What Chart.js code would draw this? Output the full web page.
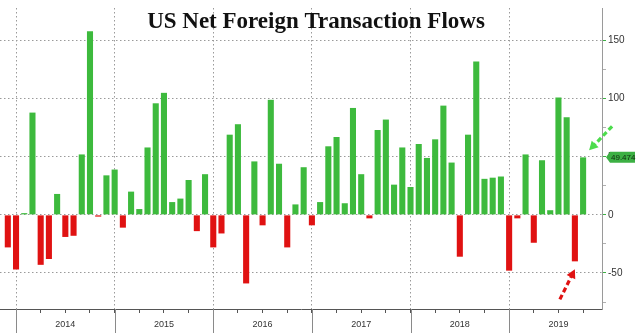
<!DOCTYPE html>
<html>
<head>
<meta charset="utf-8">
<script src="https://cdn.jsdelivr.net/npm/chart.js@4/dist/chart.umd.min.js"></script>
<style>
  html, body { margin: 0; padding: 0; background: #fff; }
  #wrap { position: relative; width: 640px; height: 333px; }
</style>
</head>
<body>
<div id="wrap"><canvas id="c" width="640" height="333"></canvas></div>
<script>
// Monthly net foreign transaction flows (USD bn)
const months = [
  '2013-12',
  '2014-01','2014-02','2014-03','2014-04','2014-05','2014-06','2014-07','2014-08','2014-09','2014-10','2014-11','2014-12',
  '2015-01','2015-02','2015-03','2015-04','2015-05','2015-06','2015-07','2015-08','2015-09','2015-10','2015-11','2015-12',
  '2016-01','2016-02','2016-03','2016-04','2016-05','2016-06','2016-07','2016-08','2016-09','2016-10','2016-11','2016-12',
  '2017-01','2017-02','2017-03','2017-04','2017-05','2017-06','2017-07','2017-08','2017-09','2017-10','2017-11','2017-12',
  '2018-01','2018-02','2018-03','2018-04','2018-05','2018-06','2018-07','2018-08','2018-09','2018-10','2018-11','2018-12',
  '2019-01','2019-02','2019-03','2019-04','2019-05','2019-06','2019-07','2019-08','2019-09','2019-10'
];
const flows = [
  -28,
  -47, 1.5, 88, -43, -38, 18, -19, -18, 52, 158, -1.5, 34,
  39, -11, 20, 5, 58, 96, 105, 11, 14, 30, -14, 35,
  -28, -16, 69, 78, -59, 46, -9, 99, 44, -28, 9, 41,
  -9, 11, 59, 67, 10, 92, 35, -3, 73, 82, 26, 58,
  24, 61, 49, 65, 94, 45, -36, 69, 132, 31, 32, 33,
  -48, -3, 52, -24, 47, 4, 101, 84, -40, 49.474
];
const yearLabels = ['2014', '2015', '2016', '2017', '2018', '2019'];
const yTickLabels = [-50, 0, 50, 100, 150];
const chartTitle = 'US Net Foreign Transaction Flows';

const GREEN = '#3dba3d';
const RED = '#e01212';
const BASE_YEAR = 2014;

function monthIndex(m) {
  const [y, mo] = m.split('-').map(Number);
  return (y - BASE_YEAR) * 12 + (mo - 1);
}

const points = months.map((m, i) => ({ x: monthIndex(m), y: flows[i] }));

function arrow(ctx, x0, y0, x1, y1, color, head) {
  const ang = Math.atan2(y1 - y0, x1 - x0);
  const hx = x1 - Math.cos(ang) * head * 0.8;
  const hy = y1 - Math.sin(ang) * head * 0.8;
  ctx.save();
  ctx.strokeStyle = color;
  ctx.fillStyle = color;
  ctx.lineWidth = 3.2;
  ctx.lineCap = 'butt';
  ctx.setLineDash([5, 3]);
  ctx.beginPath();
  ctx.moveTo(x0, y0);
  ctx.lineTo(hx, hy);
  ctx.stroke();
  ctx.setLineDash([]);
  ctx.beginPath();
  ctx.moveTo(x1, y1);
  ctx.lineTo(x1 - Math.cos(ang - 0.5) * head, y1 - Math.sin(ang - 0.5) * head);
  ctx.lineTo(x1 - Math.cos(ang + 0.5) * head, y1 - Math.sin(ang + 0.5) * head);
  ctx.closePath();
  ctx.fill();
  ctx.restore();
}

const decor = {
  id: 'decor',
  afterDraw(chart) {
    const { ctx, chartArea, scales } = chart;
    const xs = scales.x, ys = scales.y;
    ctx.save();

    // year separators below the axis and year labels
    ctx.strokeStyle = '#8a8a8a';
    ctx.lineWidth = 1;
    yearLabels.forEach((label, k) => {
      const px = Math.round(xs.getPixelForValue(k * 12)) + 0.5;
      ctx.beginPath();
      ctx.moveTo(px, chartArea.bottom);
      ctx.lineTo(px, chart.height);
      ctx.stroke();
      ctx.fillStyle = '#333';
      ctx.font = '9px "Liberation Sans", Arial, sans-serif';
      ctx.textAlign = 'center';
      ctx.textBaseline = 'middle';
      ctx.fillText(label, xs.getPixelForValue(k * 12 + 6), 325);
    });

    // title
    ctx.fillStyle = '#111';
    ctx.font = 'bold 23px "Liberation Serif", "Times New Roman", serif';
    ctx.textAlign = 'center';
    ctx.textBaseline = 'alphabetic';
    ctx.fillText(chartTitle, 316, 28);

    // latest value tag on the right axis
    const lastI = flows.length - 1;
    const lastV = flows[lastI];
    const ty = ys.getPixelForValue(lastV);
    const bx = chartArea.right + 4;
    ctx.fillStyle = '#3cb043';
    ctx.beginPath();
    ctx.moveTo(bx, ty);
    ctx.lineTo(bx + 4, ty - 5.5);
    ctx.lineTo(635, ty - 5.5);
    ctx.lineTo(635, ty + 5.5);
    ctx.lineTo(bx + 4, ty + 5.5);
    ctx.closePath();
    ctx.fill();
    ctx.fillStyle = '#102a10';
    ctx.font = '8px "Liberation Sans", Arial, sans-serif';
    ctx.textAlign = 'left';
    ctx.textBaseline = 'middle';
    ctx.fillText(lastV.toFixed(3), bx + 5, ty + 0.5);

    // arrows pointing at the two latest bars
    const gx = xs.getPixelForValue(points[lastI].x);
    const gy = ys.getPixelForValue(lastV);
    arrow(ctx, gx + 29, gy - 31, gx + 6, gy - 7, '#4cdc4c', 10);
    const rx = xs.getPixelForValue(points[lastI - 1].x);
    const ry = ys.getPixelForValue(flows[lastI - 1]);
    arrow(ctx, rx - 15, ry + 38, rx, ry + 8, RED, 10);

    ctx.restore();
  }
};

new Chart(document.getElementById('c'), {
  type: 'bar',
  data: {
    datasets: [{
      data: points,
      backgroundColor: flows.map(v => (v < 0 ? RED : GREEN)),
      borderWidth: 0,
      barPercentage: 0.74,
      categoryPercentage: 1
    }]
  },
  options: {
    responsive: false,
    animation: false,
    devicePixelRatio: 1,
    layout: { padding: 0 },
    plugins: { legend: { display: false }, title: { display: false }, tooltip: { enabled: false } },
    scales: {
      x: {
        type: 'linear',
        offset: false,
        min: -1.95,
        max: 71.3,
        afterBuildTicks: s => {
          const t = [];
          for (let v = 0; v <= 69; v += 3) t.push({ value: v });
          s.ticks = t;
        },
        afterFit: s => { s.height = 24; },
        ticks: { callback: () => '', autoSkip: false, maxRotation: 0 },
        grid: {
          offset: false,
          color: c => (c.tick && c.tick.value % 12 === 0 ? '#9a9a9a' : 'rgba(0,0,0,0)'),
          tickColor: '#555',
          tickLength: 4,
          tickBorderDash: []
        },
        border: { color: '#555', width: 1, dash: [1.5, 2.5] }
      },
      y: {
        position: 'right',
        min: -81,
        max: 178,
        afterBuildTicks: s => {
          const t = [];
          for (let v = -75; v <= 150; v += 25) t.push({ value: v });
          s.ticks = t;
        },
        afterFit: s => { s.width = 38; },
        ticks: {
          callback: v => (yTickLabels.includes(v) ? String(v) : ''),
          color: '#333',
          font: { family: '"Liberation Sans", Arial, sans-serif', size: 10 },
          padding: 2,
          autoSkip: false
        },
        grid: {
          color: c => (c.tick && yTickLabels.includes(c.tick.value) ? '#9a9a9a' : 'rgba(0,0,0,0)'),
          tickColor: c => (c.tick && yTickLabels.includes(c.tick.value) ? '#3cb043' : '#b0b0b0'),
          tickLength: 4,
          tickBorderDash: []
        },
        border: { color: '#9a9a9a', width: 1, dash: [1.5, 2.5] }
      }
    }
  },
  plugins: [decor]
});
</script>
</body>
</html>
